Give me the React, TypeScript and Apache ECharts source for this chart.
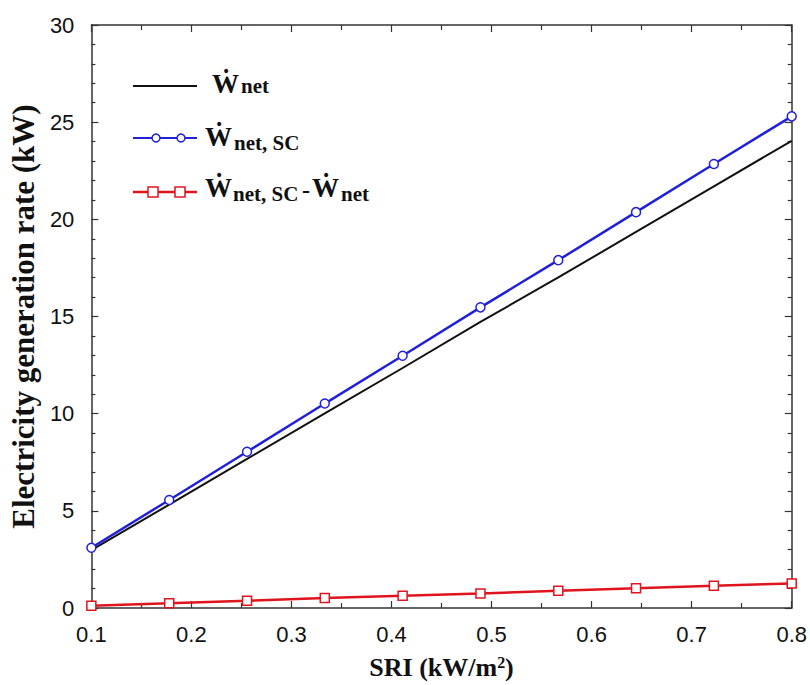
import React, { useEffect, useRef } from "react";
import * as echarts from "echarts";

const sri = [0.1, 0.1778, 0.2556, 0.3333, 0.4111, 0.4889, 0.5667, 0.6444, 0.7222, 0.8];
const wNet = [2.98, 5.32, 7.67, 10.01, 12.35, 14.72, 17.01, 19.35, 21.7, 24.04];
const wNetSC = [3.1, 5.56, 8.04, 10.52, 12.98, 15.47, 17.9, 20.37, 22.85, 25.3];
const wDiff = [0.12, 0.24, 0.37, 0.51, 0.63, 0.75, 0.89, 1.02, 1.15, 1.26];

const SERIF = "'Liberation Serif', 'DejaVu Serif', serif";
const SANS = "'Liberation Sans', Arial, sans-serif";
const BLUE = "#2020d8";
const RED = "#e0141e";
const AXIS = "#333";

function txt(text: string, x: number, y: number, size: number) {
  return {
    type: "text",
    x,
    y,
    z: 100,
    style: {
      text,
      fill: "#111",
      font: `bold ${size}px ${SERIF}`,
      align: "left",
      verticalAlign: "bottom",
      textAlign: "left",
      textVerticalAlign: "bottom",
    },
  };
}

export default function App() {
  const ref = useRef<HTMLDivElement>(null);
  useEffect(() => {
    if (!ref.current) return;
    const chart = echarts.init(ref.current, undefined, { renderer: "svg" });
    const zip = (ys: number[]) => sri.map((x, i) => [x, ys[i]]);
    const xCommon = {
      type: "value",
      min: 0.1,
      max: 0.8,
      interval: 0.1,
      splitLine: { show: false },
      axisLine: { show: true, onZero: false, lineStyle: { color: AXIS, width: 1.5 } },
      axisTick: { show: true, inside: true, length: 7, lineStyle: { color: AXIS, width: 1.2 } },
      minorTick: { show: true, splitNumber: 2, length: 5, lineStyle: { color: AXIS, width: 1.2 } },
      minorSplitLine: { show: false },
    };
    const yCommon = {
      type: "value",
      min: 0,
      max: 30,
      interval: 5,
      splitLine: { show: false },
      axisLine: { show: true, onZero: false, lineStyle: { color: AXIS, width: 1.5 } },
      axisTick: { show: true, inside: true, length: 7, lineStyle: { color: AXIS, width: 1.2 } },
      minorTick: { show: true, splitNumber: 5, length: 4, lineStyle: { color: AXIS, width: 1.2 } },
      minorSplitLine: { show: false },
    };
    chart.setOption({
      animation: false,
      backgroundColor: "#fff",
      grid: { left: 91, right: 17, top: 25, bottom: 74, containLabel: false },
      xAxis: [
        {
          ...xCommon,
          position: "bottom",
          name: "{t|SRI (kW/m}{s|2}{t|)}",
          nameLocation: "middle",
          nameGap: 46,
          nameTextStyle: {
            rich: {
              t: { fontSize: 26, fontWeight: "bold", fontFamily: SERIF, color: "#111" },
              s: { fontSize: 16, fontWeight: "bold", fontFamily: SERIF, color: "#111", verticalAlign: "top" },
            },
          },
          axisLabel: {
            show: true,
            margin: 15,
            fontSize: 22,
            fontFamily: SANS,
            color: "#111",
            formatter: (v: number) => v.toFixed(1),
          },
        },
        { ...xCommon, position: "top", axisLabel: { show: false } },
      ],
      yAxis: [
        {
          ...yCommon,
          position: "left",
          name: "Electricity generation rate (kW)",
          nameLocation: "middle",
          nameGap: 50,
          nameTextStyle: { fontSize: 31, fontWeight: "bold", fontFamily: SERIF, color: "#111" },
          axisLabel: { show: true, margin: 17, fontSize: 22, fontFamily: SANS, color: "#111" },
        },
        { ...yCommon, position: "right", axisLabel: { show: false } },
      ],
      series: [
        {
          type: "line",
          name: "W net",
          data: zip(wNet),
          symbol: "none",
          lineStyle: { color: "#111", width: 2 },
          z: 2,
        },
        {
          type: "line",
          name: "W net, SC",
          data: zip(wNetSC),
          symbol: "circle",
          symbolSize: 9,
          lineStyle: { color: BLUE, width: 2.5 },
          itemStyle: { color: "#fff", borderColor: BLUE, borderWidth: 1.5 },
          z: 3,
        },
        {
          type: "line",
          name: "W net, SC - W net",
          data: zip(wDiff),
          symbol: "rect",
          symbolSize: 9,
          lineStyle: { color: RED, width: 2.5 },
          itemStyle: { color: "#fff", borderColor: RED, borderWidth: 1.5 },
          z: 4,
        },
      ],
      graphic: [
        { type: "line", shape: { x1: 133, y1: 86, x2: 197, y2: 86 }, style: { stroke: "#111", lineWidth: 2 } },
        { type: "line", shape: { x1: 133, y1: 138, x2: 197, y2: 138 }, style: { stroke: BLUE, lineWidth: 2 } },
        { type: "circle", shape: { cx: 156, cy: 138, r: 4 }, style: { fill: "#fff", stroke: BLUE, lineWidth: 1.5 } },
        { type: "circle", shape: { cx: 181, cy: 138, r: 4 }, style: { fill: "#fff", stroke: BLUE, lineWidth: 1.5 } },
        { type: "line", shape: { x1: 133, y1: 192, x2: 197, y2: 192 }, style: { stroke: RED, lineWidth: 2.5 } },
        { type: "rect", shape: { x: 148, y: 187, width: 10, height: 10 }, style: { fill: "#fff", stroke: RED, lineWidth: 1.5 } },
        { type: "rect", shape: { x: 175, y: 187, width: 10, height: 10 }, style: { fill: "#fff", stroke: RED, lineWidth: 1.5 } },
        txt("Ẇ", 212, 97, 27),
        txt("net", 241, 96, 21),
        txt("Ẇ", 205, 150, 27),
        txt("net, SC", 234, 153, 21),
        txt("Ẇ", 205, 201, 27),
        txt("net, SC", 233, 204, 21),
        txt("-", 302, 202, 24),
        txt("Ẇ", 312, 201, 27),
        txt("net", 341, 204, 21),
      ],
    });
    return () => chart.dispose();
  }, []);
  return (
    <div
      ref={ref}
      style={{ position: "absolute", left: 0, top: 0, width: 810, height: 685, background: "#fff" }}
    />
  );
}
